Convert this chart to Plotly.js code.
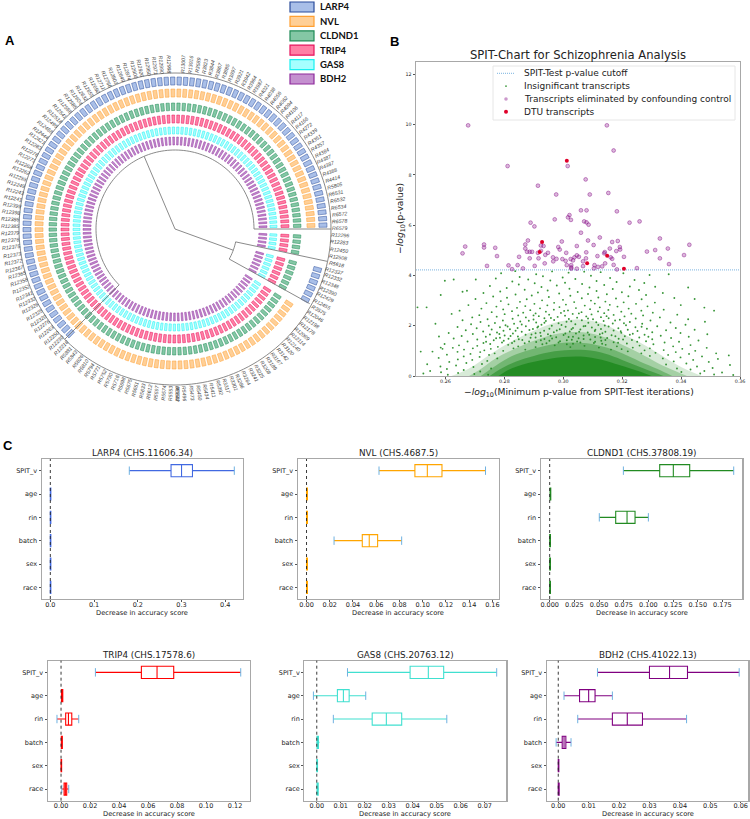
<!DOCTYPE html>
<html>
<head>
<meta charset="utf-8">
<script src="https://cdn.plot.ly/plotly-3.0.1.min.js"></script>
<style>
  body { margin: 0; background: #fff; }
  #chart { width: 750px; height: 819px; }
</style>
</head>
<body>
<div id="chart"></div>
<script>
const W = 750;
const H = 819;

// panel A: tip labels, counter-clockwise from the right
const tipsUpper = ['R6579','R6578','R6572','R6534','R6532','R6531','R5805','R4414','R4388','R4387','R4387','R4384','R4357','R4351','R4339','R4272','R4166','R4117',
  'R4106','R4094','R4062','R4056','R4038','R4021','R3987','R3964','R3942','R3921','R3897','R3885','R3867','R3844','R3823','R3589','R13016','R13007','R12998','R12990','R12971','R12950','R12926','R12900','R12874','R12849','R12803','R12766',
  'R12711','R12690','R12655','R12632','R12604','R12585','R12566','R12541','R12518','R12495','R12468','R12444','R12421','R12283','R12276','R12271','R12268','R12262','R12255','R12249','R12243','R12241',
  'R12399','R12398','R12386','R12385','R12379','R12376','R12375','R12373','R12372','R12367','R12365','R12358','R12352','R12341','R12332','R12326','R12325','R12320','R12276','R12263','R12250','R12230','R12218'];
const tipsLower = ['R5881','R5843','R5826','R5810','R5794','R5771','R5752','R5730','R5716','R5698','R5675','R5651','R5633','R5612','R5597','R5574','R5553','R5530','R5512','R5496','R5473','R5450','R5434','R5411','R5392',
  'R3317','R3301','R3286','R3264','R3241','R3225','R3208','R3189','R3167','R3142','R3120','R12140','R12114','R12089','R12178','R12198','R12046'];
const tipsRight = ['R3575','R12455','R12429','R12390','R12348','R12332','R12337','R5618','R12508','R12450','R12283','R12296'];

const ringNames = ['LARP4', 'NVL', 'CLDND1', 'TRIP4', 'GAS8', 'BDH2'];
const ringFill = ['#a9bfe8', '#ffcf96', '#84c7a5', '#ff7fa5', '#a6ffff', '#c490cf'];
const ringEdge = ['#2b4c9b', '#ffa033', '#1f8a56', '#e6135c', '#19f0f0', '#8e2a9c'];
const ringInner = [144, 132, 118.5, 106, 95, 84];
const ringOuter = [152, 140, 126, 114, 102, 92];
const ringCellWidth = [1.65, 1.6, 1.5, 1.4, 1.3, 1.05];
// tip index ranges that carry a cell in each ring
const ringRanges = [
  [[0, 90], [133, 138]],
  [[0, 90], [91, 131]],
  [[0, 90], [91, 131], [133, 138], [140, 143]],
  [[0, 90], [91, 131], [133, 138], [140, 143]],
  [[0, 90], [91, 131], [133, 138], [140, 143]],
  [[0, 90], [91, 131], [133, 138], [140, 143]],
];

// panel B
const cutoff = [4.22, 4.22];
const cutoffX = [0.25, 0.36];
// dense part of the green cloud, read as outlines of falling density
const cloud1X = [0.262, 0.268, 0.275, 0.282, 0.29, 0.298, 0.305, 0.313, 0.32, 0.328, 0.335, 0.341, 0.347];
const cloud1Y = [0, 0.3, 0.85, 1.35, 1.8, 2.15, 2.25, 2.1, 1.7, 1.2, 0.7, 0.3, 0];
const cloud2X = [0.268, 0.272, 0.277, 0.283, 0.29, 0.298, 0.305, 0.312, 0.319, 0.326, 0.332, 0.338, 0.342];
const cloud2Y = [0, 0.28, 0.7, 1.05, 1.4, 1.68, 1.75, 1.62, 1.3, 0.9, 0.52, 0.2, 0];
const cloud3X = [0.272, 0.276, 0.281, 0.287, 0.294, 0.3, 0.308, 0.315, 0.32, 0.326, 0.332, 0.337];
const cloud3Y = [0, 0.33, 0.7, 0.98, 1.2, 1.32, 1.3, 1.12, 0.9, 0.58, 0.28, 0];
const cloud4X = [0.275, 0.279, 0.284, 0.29, 0.297, 0.304, 0.311, 0.317, 0.323, 0.329, 0.334];
const cloud4Y = [0, 0.3, 0.58, 0.8, 0.98, 1.04, 0.98, 0.78, 0.5, 0.22, 0];
const cloud5X = [0.278, 0.2815, 0.2863, 0.294, 0.3, 0.3078, 0.3146, 0.319, 0.326, 0.33];
const cloud5Y = [0, 0.25, 0.46, 0.66, 0.76, 0.76, 0.6, 0.44, 0.18, 0];
const cloudAlpha = [0.18, 0.28, 0.38, 0.55, 0.96];

const insignificant = [
  [0.2837,4.17],[0.2962,4.16],[0.3018,4.11],[0.2789,4.09],[0.3071,4.15],[0.2908,4.05],[0.3127,4.13],[0.2931,3.97],[0.3204,4.09],[0.2852,3.94],[0.3293,4.02],[0.2998,3.92],[0.3094,3.99],[0.2771,3.88],[0.3159,3.9],[0.3041,3.86],[0.2881,3.84],[0.3242,3.82],[0.2956,3.8],[0.2703,3.84],
  [0.3358,4.05],[0.3113,3.78],[0.2827,3.76],[0.3181,3.74],[0.3006,3.71],[0.3275,3.7],[0.2903,3.69],[0.2628,3.84],[0.2598,3.79],[0.3064,3.66],[0.2849,3.64],[0.3139,3.62],[0.2751,3.58],[0.2978,3.6],[0.3226,3.56],[0.3312,3.55],[0.2926,3.54],[0.3089,3.52],[0.3424,3.52],[0.2808,3.5],
  [0.3021,3.47],[0.3168,3.46],[0.2869,3.43],[0.2658,3.35],[0.2673,3.39],[0.3257,3.42],[0.2947,3.4],[0.3113,3.38],[0.2786,3.36],[0.3049,3.34],[0.2914,3.32],[0.3199,3.33],[0.2729,3.3],[0.3338,3.3],[0.2986,3.28],[0.3084,3.26],[0.2838,3.24],[0.3148,3.25],[0.2584,3.22],[0.3281,3.22],
  [0.2893,3.2],[0.3024,3.19],[0.2762,3.16],[0.3221,3.17],[0.2951,3.14],[0.3119,3.12],[0.2809,3.11],[0.3063,3.09],[0.2702,3.06],[0.3179,3.08],[0.3377,3.1],[0.2876,3.05],[0.2999,3.03],[0.3266,3.05],[0.3446,3.06],[0.2928,3.01],[0.3094,3.0],[0.2788,2.98],[0.3143,2.96],[0.2853,2.95],
  [0.3037,2.94],[0.3205,2.93],[0.2969,2.91],[0.2739,2.9],[0.3311,2.92],[0.3107,2.88],[0.2902,2.87],[0.3247,2.87],[0.2814,2.85],[0.3009,2.84],[0.3158,2.83],[0.2678,2.82],[0.2946,2.81],[0.3073,2.8],[0.2871,2.78],[0.3399,2.82],[0.3286,2.77],[0.3184,2.76],[0.2773,2.76],[0.2987,2.74],
  [0.3124,2.73],[0.2505,2.73],[0.2536,2.73],[0.3479,2.72],[0.2843,2.71],[0.3043,2.7],[0.2921,2.69],[0.3222,2.68],[0.2722,2.68],[0.3091,2.66],[0.2796,2.65],[0.2968,2.64],[0.3153,2.63],[0.3341,2.64],[0.2888,2.62],[0.3016,2.61],[0.3265,2.6],[0.2648,2.6],[0.3512,2.6],[0.2826,2.58],
  [0.3118,2.57],[0.2941,2.56],[0.3197,2.56],[0.3062,2.54],[0.2757,2.54],[0.2864,2.52],[0.2992,2.51],[0.3304,2.52],[0.3139,2.5],[0.2906,2.49],[0.2621,2.47],[0.3231,2.48],[0.3032,2.47],[0.2801,2.46],[0.3096,2.45],[0.2952,2.44],[0.3387,2.44],[0.2715,2.42],[0.3171,2.43],[0.2847,2.41],
  [0.3006,2.4],[0.3271,2.41],[0.2917,2.38],[0.3078,2.37],[0.3208,2.37],[0.2774,2.36],[0.2981,2.35],[0.3128,2.34],[0.2691,2.33],[0.2873,2.33],[0.3047,2.32],[0.3328,2.33],[0.2936,2.3],[0.3154,2.3],[0.3246,2.29],[0.2828,2.28],[0.3019,2.27],[0.2743,2.26],[0.3101,2.26],[0.2899,2.25],
  [0.3424,2.26],[0.2969,2.23],[0.3192,2.24],[0.2658,2.22],[0.3063,2.22],[0.2795,2.21],[0.3296,2.21],[0.2941,2.19],[0.3137,2.19],[0.2854,2.17],[0.3481,2.16],[0.3011,2.16],[0.2719,2.15],[0.3226,2.15],[0.2908,2.13],[0.3085,2.12],[0.3364,2.13],[0.2768,2.11],[0.2566,2.08],[0.2984,2.1],
  [0.3168,2.09],[0.2833,2.08],[0.3268,2.08],[0.2687,2.06],[0.3041,2.06],[0.2926,2.04],[0.3119,2.03],[0.3415,2.04],[0.2804,2.02],[0.3213,2.02],[0.2961,2.0],[0.2747,2.0],[0.3075,1.99],[0.2873,1.98],[0.3319,1.98],[0.3154,1.97],[0.3008,1.96],[0.2641,1.95],[0.2785,1.94],[0.3245,1.94],
  [0.2912,1.93],[0.3097,1.93],[0.2845,1.91],[0.3033,1.91],[0.3382,1.91],[0.2706,1.9],[0.3187,1.9],[0.2953,1.88],[0.3284,1.88],[0.3128,1.87],[0.2819,1.86],[0.2988,1.86],[0.2757,1.85],[0.3058,1.85],[0.3219,1.84],[0.2885,1.83],[0.3446,1.84],[0.2669,1.82],[0.3349,1.82],[0.3171,1.81],
  [0.2797,1.8],[0.2935,1.8],[0.3107,1.79],[0.3252,1.79],[0.2728,1.77],[0.3022,1.77],[0.2859,1.76],[0.3143,1.76],[0.2968,1.74],[0.3302,1.74],[0.2775,1.73],[0.3083,1.73],[0.2611,1.71],[0.3197,1.72],[0.2906,1.7],[0.3398,1.71],[0.2829,1.69],[0.3043,1.69],[0.3236,1.68],[0.2693,1.67],
  [0.2948,1.66],[0.3124,1.66],[0.3489,1.66],[0.2751,1.65],[0.2872,1.64],[0.3276,1.64],[0.3001,1.63],[0.3164,1.62],[0.2801,1.61],[0.3069,1.61],[0.2578,1.57],[0.3331,1.6],[0.2924,1.59],[0.2655,1.59],[0.3209,1.58],[0.2846,1.57],[0.3033,1.56],[0.2737,1.56],[0.3108,1.55],[0.3426,1.56],
  [0.2976,1.54],[0.3258,1.53],[0.2785,1.52],[0.2889,1.52],[0.3149,1.51],[0.3366,1.51],[0.3052,1.5],[0.2628,1.49],[0.2814,1.48],[0.3188,1.48],[0.2936,1.47],[0.3302,1.46],[0.2708,1.45],[0.3092,1.45],[0.2861,1.43],[0.3233,1.43],[0.3012,1.42],[0.2764,1.42],[0.3459,1.41],[0.2953,1.4],
  [0.3129,1.4],[0.2834,1.38],[0.3281,1.38],[0.2675,1.37],[0.3047,1.37],[0.2908,1.35],[0.3393,1.36],[0.3171,1.34],[0.2792,1.33],[0.2984,1.33],[0.3344,1.33],[0.2729,1.31],[0.3104,1.31],[0.2869,1.3],[0.3216,1.29],[0.2597,1.27],[0.2752,1.27],[0.3033,1.28],[0.3306,1.26],[0.2929,1.26],
  [0.2813,1.24],[0.3144,1.24],[0.3432,1.23],[0.2646,1.22],[0.2971,1.22],[0.3259,1.21],[0.2708,1.2],[0.3072,1.2],[0.2847,1.18],[0.3182,1.18],[0.3373,1.18],[0.2778,1.16],[0.2906,1.15],[0.3024,1.15],[0.3236,1.13],[0.2584,1.13],[0.2625,1.12],[0.3121,1.13],[0.3487,1.12],[0.2693,1.1],
  [0.2831,1.1],[0.3294,1.1],[0.2754,1.08],[0.259,1.08],[0.3404,1.08],[0.3198,1.07],[0.2663,1.05],[0.2871,1.05],[0.3162,1.05],[0.3341,1.03],[0.2732,1.02],[0.3276,1.02],[0.2516,0.97],[0.2556,0.97],[0.2796,1.0],[0.3448,1.0],[0.3219,0.98],[0.2641,0.96],[0.2718,0.95],[0.3382,0.95],
  [0.3313,0.92],[0.3265,0.9],[0.2767,0.9],[0.2685,0.88],[0.3519,0.9],[0.3427,0.88],[0.2605,0.85],[0.3562,0.82],[0.2748,0.84],[0.3356,0.84],[0.3294,0.8],[0.2662,0.78],[0.3471,0.78],[0.2716,0.76],[0.3398,0.74],[0.2577,0.72],[0.2776,0.7],[0.3338,0.7],[0.3525,0.68],[0.2642,0.66],
  [0.2691,0.64],[0.3441,0.64],[0.2742,0.6],[0.3375,0.58],[0.2613,0.56],[0.3494,0.56],[0.2538,0.47],[0.2671,0.52],[0.3418,0.5],[0.2724,0.48],[0.3349,0.46],[0.3566,0.44],[0.2636,0.42],[0.2583,0.38],[0.3454,0.38],[0.2695,0.36],[0.3507,0.32],[0.2755,0.3],[0.3386,0.3],[0.2605,0.28],
  [0.3432,0.26],[0.2662,0.24],[0.2548,0.2],[0.3479,0.2],[0.2718,0.18],[0.3401,0.16],[0.2585,0.15],[0.3539,0.14],[0.2643,0.12],[0.2525,0.1],[0.3465,0.1],[0.2698,0.08],[0.3512,0.06],[0.2608,0.05],[0.2745,0.05],[0.3577,0.04],
  [0.3003,2.59],[0.2899,2.41],[0.3053,2.49],[0.3147,2.38],[0.2958,2.31],[0.3084,2.29],[0.3176,2.21],[0.2883,2.2],[0.3027,2.18],[0.2936,2.12],[0.3112,2.14],[0.2859,2.05],[0.2994,2.03],[0.3206,2.1],[0.3069,1.98],[0.2915,1.97],[0.3141,2.01],[0.2811,1.97],[0.3028,1.86],[0.3266,1.96],
  [0.2897,1.87],[0.3109,1.84],[0.2978,1.81],[0.3195,1.78],[0.2838,1.8],[0.3054,1.76],[0.2922,1.72],[0.3133,1.7],[0.3007,1.69],[0.2783,1.67],[0.3226,1.64],[0.2892,1.65],[0.3088,1.64],[0.2957,1.6],[0.3177,1.58],[0.2821,1.59],[0.3018,1.55],[0.3127,1.53],[0.2906,1.53],[0.3289,1.56],
  [0.2772,1.5],[0.2962,1.49],[0.3069,1.47],[0.3203,1.45],[0.2849,1.46],[0.3029,1.44],[0.2924,1.42],[0.3143,1.43],[0.2798,1.4],[0.3108,1.36],[0.2989,1.38],[0.3251,1.36],[0.2884,1.37],[0.3058,1.33],[0.2738,1.36],[0.3186,1.32],[0.2826,1.31],[0.2943,1.3],[0.3132,1.28],[0.3012,1.26],
];

const eliminated = [
  [0.2677,9.97],[0.3148,9.97],[0.3171,8.97],[0.2811,8.35],[0.3015,8.35],[0.3076,7.82],[0.2914,7.57],[0.2976,7.22],[0.309,7.22],[0.3153,7.28],[0.3182,6.55],[0.306,6.59],[0.3079,6.59],[0.3021,6.4],[0.3016,6.31],[0.3026,6.21],[0.2971,6.23],[0.2889,6.1],[0.2902,5.95],[0.3071,6.15],
  [0.3079,6.11],[0.3086,6.02],[0.3225,6.1],[0.3259,6.15],[0.306,5.7],[0.3124,5.51],[0.3328,5.47],[0.3084,5.39],[0.288,5.39],[0.2995,5.35],[0.3166,5.33],[0.3185,5.37],[0.2871,5.23],[0.3103,5.21],[0.2731,5.23],[0.2667,5.15],[0.2731,5.11],[0.2769,5.1],[0.3428,5.22],[0.3355,5.07],
  [0.3312,5.01],[0.2983,5.13],[0.2988,5.03],[0.2924,5.19],[0.2933,5.17],[0.3046,5.17],[0.3158,5.07],[0.3192,5.13],[0.3193,5.03],[0.2871,5.07],[0.2658,4.88],[0.2877,4.94],[0.2886,4.94],[0.2894,4.94],[0.2914,4.9],[0.2924,4.98],[0.2948,4.9],[0.2939,4.82],[0.301,4.9],[0.3078,4.92],
  [0.3141,4.93],[0.3139,4.88],[0.318,4.97],[0.3284,4.95],[0.2775,4.77],[0.285,4.74],[0.2886,4.68],[0.2916,4.68],[0.2965,4.72],[0.2977,4.66],[0.2997,4.65],[0.3046,4.8],[0.3038,4.72],[0.3053,4.74],[0.3025,4.65],[0.3008,4.58],[0.3033,4.6],[0.3077,4.68],[0.3116,4.77],[0.3161,4.72],
  [0.3166,4.66],[0.3206,4.74],[0.3328,4.68],[0.341,4.81],[0.2966,4.56],[0.2937,4.48],[0.3067,4.56],[0.3142,4.48],[0.3171,4.42],[0.3359,4.45],[0.2741,4.38],[0.2814,4.4],[0.2845,4.41],[0.2903,4.38],[0.3012,4.41],[0.3027,4.32],[0.3027,4.41],[0.3067,4.37],[0.3106,4.41],[0.3118,4.34],
  [0.3132,4.36],[0.2826,4.25],[0.2863,4.28],[0.3046,4.27],[0.3027,4.27],[0.3104,4.28],[0.3182,4.24],[0.325,4.29],
];
const dtu = [[0.3012,8.56],[0.2928,5.33],[0.292,4.93],[0.3149,4.78],[0.3081,4.48],[0.3206,4.27]];

// panel C
const features = ['SPIT_v', 'age', 'rin', 'batch', 'sex', 'race'];

const larp4Low = [0.1806, -0.0002, -0.0002, -0.0002, -0.0002, -0.0002];
const larp4Q1 = [0.276, 0, 0, 0, 0, 0];
const larp4Med = [0.3, 0.0005, 0.0005, 0.0005, 0.0005, 0.0005];
const larp4Q3 = [0.325, 0.0012, 0.0012, 0.0012, 0.0012, 0.0012];
const larp4High = [0.4206, 0.0015, 0.0015, 0.0015, 0.0015, 0.0015];

const nvlLow = [0.0624, 0, 0, 0.0237, 0, 0];
const nvlQ1 = [0.0933, 0, 0, 0.048, 0, 0];
const nvlMed = [0.104, 0.0004, 0.0004, 0.054, 0.0004, 0.0004];
const nvlQ3 = [0.1166, 0.0008, 0.0008, 0.0612, 0.0008, 0.0008];
const nvlHigh = [0.1541, 0.001, 0.001, 0.0819, 0.001, 0.001];

const cldnd1Low = [0.0747, 0.0002, 0.0503, 0, 0, 0];
const cldnd1Q1 = [0.1115, 0.0004, 0.0669, 0, 0, 0];
const cldnd1Med = [0.1253, 0.0007, 0.0784, 0.0004, 0.0004, 0.0004];
const cldnd1Q3 = [0.1419, 0.0011, 0.0865, 0.0008, 0.0008, 0.0008];
const cldnd1High = [0.1865, 0.0013, 0.1, 0.001, 0.001, 0.001];

const trip4Low = [0.0237, 0.0002, -0.0028, 0.0001, 0, 0.0005];
const trip4Q1 = [0.0554, 0.0003, 0.0032, 0.0002, 0, 0.0021];
const trip4Med = [0.0662, 0.0006, 0.0051, 0.0005, 0, 0.003];
const trip4Q3 = [0.0777, 0.0012, 0.0074, 0.0009, 0.0004, 0.0039];
const trip4High = [0.1239, 0.0014, 0.0122, 0.001, 0.0004, 0.0053];

const gas8Low = [0.0128, -0.0014, 0.0069, -0.0002, 0, 0];
const gas8Q1 = [0.0389, 0.0086, 0.0231, 0.0001, 0, 0.0001];
const gas8Med = [0.0465, 0.0111, 0.029, 0.0004, 0.0001, 0.0003];
const gas8Q3 = [0.0529, 0.0135, 0.0354, 0.0007, 0.0003, 0.0006];
const gas8High = [0.075, 0.0204, 0.0542, 0.0011, 0.0004, 0.0009];

const bdh2Low = [0.0129, 0.0019, 0.0064, -0.0007, 0, 0];
const bdh2Q1 = [0.03, 0.007, 0.0178, 0.0013, 0, 0];
const bdh2Med = [0.0366, 0.01, 0.0227, 0.0019, 0.0001, 0.0001];
const bdh2Q3 = [0.0425, 0.0121, 0.0277, 0.0025, 0.0002, 0.0003];
const bdh2High = [0.0595, 0.0178, 0.0422, 0.0042, 0.0002, 0.0003];

const FONT = 'DejaVu Sans, sans-serif';
const FRAME = '#a8a8a8';
const px = (x) => x / W;
const py = (y) => 1 - y / H;

const data = [];
const shapes = [];
const annotations = [];
const layout = {
  width: W,
  height: H,
  margin: { l: 0, r: 0, t: 0, b: 0 },
  paper_bgcolor: '#fff',
  plot_bgcolor: '#fff',
  font: { family: FONT, color: '#222' },
  showlegend: false,
  shapes,
  annotations,
};

function text(x, y, str, size, extra = {}) {
  annotations.push({
    xref: 'paper', yref: 'paper', x: px(x), y: py(y), text: str, showarrow: false,
    font: { size, family: FONT, color: '#222' }, xanchor: 'center', yanchor: 'middle', ...extra,
  });
}

// ---- panel A
const CX = 175;
const CY = 229;
const POLAR_R = 170;
const NTIPS = 145;
const tipTheta = (k) => 1.5 + k * 360 / NTIPS;

function arc(r, from, to) {
  const pts = { r: [], theta: [] };
  const steps = Math.max(2, Math.ceil(Math.abs(to - from) / 2));
  for (let i = 0; i <= steps; i++) {
    pts.r.push(r);
    pts.theta.push(from + (to - from) * i / steps);
  }
  return pts;
}

ringNames.forEach((name, i) => {
  const theta = [];
  ringRanges[i].forEach(([a, b]) => {
    for (let k = a; k <= b; k++) theta.push(tipTheta(k));
  });
  data.push({
    type: 'barpolar', subplot: 'polar', name, showlegend: false, hoverinfo: 'skip',
    theta,
    r: theta.map(() => ringOuter[i] - ringInner[i]),
    base: ringInner[i],
    width: ringCellWidth[i],
    marker: { color: ringFill[i], line: { color: ringEdge[i], width: 0.5 } },
  });
});

// tree branches as [r, from, to] arcs and [r0, r1, theta] spokes
const treeArcs = [[156, 0, 360], [79, 0, 225], [62, -12, -29]];
const treeSpokes = [[79, 156, 0], [79, 156, 225], [62, 156, -12], [62, 154, -29], [0, 62, -20], [0, 79, 113]];
treeArcs.forEach(([r, from, to]) => {
  const a = arc(r, from, to);
  data.push({ type: 'scatterpolar', subplot: 'polar', mode: 'lines', r: a.r, theta: a.theta,
    line: { color: '#7d7d7d', width: 0.9 }, showlegend: false, hoverinfo: 'skip' });
});
treeSpokes.forEach(([r0, r1, t]) => {
  data.push({ type: 'scatterpolar', subplot: 'polar', mode: 'lines', r: [r0, r1], theta: [t, t],
    line: { color: '#7d7d7d', width: 0.9 }, showlegend: false, hoverinfo: 'skip' });
});

layout.polar = {
  domain: { x: [px(CX - POLAR_R), px(CX + POLAR_R)], y: [py(CY + POLAR_R), py(CY - POLAR_R)] },
  bgcolor: 'rgba(0,0,0,0)',
  barmode: 'overlay',
  angularaxis: { visible: false, rotation: 0, direction: 'counterclockwise', showgrid: false, showline: false, showticklabels: false, ticks: '' },
  radialaxis: { visible: false, range: [0, POLAR_R], showgrid: false, showline: false, showticklabels: false, ticks: '' },
};

const allTips = [...tipsUpper, ...tipsLower, ...tipsRight];
allTips.forEach((label, k) => {
  const t = ((tipTheta(k) % 360) + 360) % 360;
  const rightSide = t < 90 || t > 270;
  const shown = rightSide ? t - 1.2 : t + 1.2;
  const rad = shown * Math.PI / 180;
  text(CX + 165 * Math.cos(rad), CY - 165 * Math.sin(rad), `<i>${label}</i>`, 5.2, {
    textangle: rightSide ? -shown : 180 - shown,
    font: { size: 5.2, family: 'Liberation Sans, sans-serif', color: '#444' },
  });
});

ringNames.forEach((name, i) => {
  const top = 2 + i * 14.4;
  shapes.push({ type: 'rect', xref: 'paper', yref: 'paper', x0: px(290), x1: px(314), y0: py(top), y1: py(top + 10),
    fillcolor: ringFill[i], line: { color: ringEdge[i], width: 1.2 } });
  text(318, top + 5, `<b>${name}</b>`, 9.5, { xanchor: 'left', font: { size: 9.5, family: 'Lato, sans-serif', color: '#111' } });
});

// ---- panel B
const BOX_B = { l: 416, r: 740, t: 62, b: 376 };
[[cloud1X, cloud1Y], [cloud2X, cloud2Y], [cloud3X, cloud3Y], [cloud4X, cloud4Y], [cloud5X, cloud5Y]].forEach(([x, y], i) => {
  data.push({ type: 'scatter', mode: 'lines', x, y, fill: 'tozeroy', fillcolor: `rgba(34,139,34,${cloudAlpha[i]})`, line: { width: 0, shape: 'spline' }, showlegend: false, hoverinfo: 'skip' });
});
data.push({ type: 'scatter', mode: 'lines', name: 'SPIT-Test p-value cutoff', x: cutoffX, y: cutoff, line: { color: '#7ab3e0', width: 1, dash: '1px,1px' } });
data.push({ type: 'scatter', mode: 'markers', name: 'Insignificant transcripts', x: insignificant.map((p) => p[0]), y: insignificant.map((p) => p[1]),
  marker: { color: '#228b22', size: 1.9, opacity: 0.9 } });
data.push({ type: 'scatter', mode: 'markers', name: 'Transcripts eliminated by confounding control', x: eliminated.map((p) => p[0]), y: eliminated.map((p) => p[1]),
  marker: { color: 'rgba(128,0,128,0.28)', size: 3.8, line: { color: 'rgba(128,0,128,0.6)', width: 0.7 } } });
data.push({ type: 'scatter', mode: 'markers', name: 'DTU transcripts', x: dtu.map((p) => p[0]), y: dtu.map((p) => p[1]),
  marker: { color: '#e0002a', size: 4 } });

layout.xaxis = {
  domain: [px(BOX_B.l), px(BOX_B.r)], anchor: 'y', range: [0.25, 0.36], tick0: 0.26, dtick: 0.02, tickformat: '.2f',
  tickfont: { size: 4.8 }, ticks: 'outside', ticklen: 2, tickcolor: '#555', ticklabelstandoff: -2, showgrid: false, zeroline: false,
  showline: true, mirror: true, linecolor: FRAME, linewidth: 1.4,
};
layout.yaxis = {
  domain: [py(BOX_B.b), py(BOX_B.t)], anchor: 'x', range: [0, 12.49], dtick: 2,
  tickfont: { size: 4.8 }, ticks: 'outside', ticklen: 2, tickcolor: '#555', showgrid: false, zeroline: false,
  showline: true, mirror: true, linecolor: FRAME, linewidth: 1.4,
};
text(578, 55, 'SPIT-Chart for Schizophrenia Analysis', 11.6);
text(578.7, 392, '\u2212<i>log</i><sub>10</sub>(Minimum p-value from SPIT-Test iterations)', 9.2);
text(401, 218, '\u2212<i>log</i><sub>10</sub>(p-value)', 9.2, { textangle: -90 });

// legend of panel B, drawn by hand so the rows can sit as tight as the reference
const legendRows = [
  ['SPIT-Test p-value cutoff', 'line', '#7ab3e0', 0],
  ['Insignificant transcripts', 'dot', '#228b22', 0.8],
  ['Transcripts eliminated by confounding control', 'dot', 'rgba(128,0,128,0.4)', 1.8],
  ['DTU transcripts', 'dot', '#e0002a', 2],
];
shapes.push({ type: 'rect', xref: 'paper', yref: 'paper', x0: px(493), x1: px(735), y0: py(66), y1: py(120),
  fillcolor: 'rgba(255,255,255,0.85)', line: { color: '#e6e6e6', width: 1 } });
legendRows.forEach(([label, kind, color, radius], i) => {
  const y = 73.3 + i * 12.85;
  if (kind === 'line') {
    shapes.push({ type: 'line', xref: 'paper', yref: 'paper', x0: px(497), x1: px(515), y0: py(y), y1: py(y), line: { color, width: 1, dash: '1px,1px' } });
  } else {
    shapes.push({ type: 'circle', xref: 'paper', yref: 'paper', x0: px(506 - radius), x1: px(506 + radius), y0: py(y - radius), y1: py(y + radius),
      fillcolor: color, line: { width: 0 } });
  }
  text(522, y, label, 9, { xanchor: 'left' });
});

// ---- panel C
function boxPanel(n, title, color, stats, box, range, dtick, tickformat) {
  const [low, q1, med, q3, high] = stats;
  const xa = `x${n}`;
  const ya = `y${n}`;
  data.push({
    type: 'box', orientation: 'h', xaxis: xa, yaxis: ya, y: features, lowerfence: low, q1, median: med, q3, upperfence: high,
    boxpoints: false, width: 0.52, whiskerwidth: 0, fillcolor: 'rgba(0,0,0,0)', line: { color, width: 1.1 }, showlegend: false, hoverinfo: 'skip',
  });
  const span = range[1] - range[0];
  const capRows = features.map((_, i) => i).filter((i) => high[i] - low[i] > span * 0.025);
  data.push({
    type: 'scatter', mode: 'markers', xaxis: xa, yaxis: ya,
    x: capRows.map((i) => low[i]).concat(capRows.map((i) => high[i])),
    y: capRows.map((i) => features[i]).concat(capRows.map((i) => features[i])),
    marker: { symbol: 'line-ns', size: 6, line: { color: '#6fb1e0', width: 1 } }, showlegend: false, hoverinfo: 'skip',
  });
  layout[`xaxis${n}`] = {
    domain: [px(box.l), px(box.r)], anchor: ya, range, tick0: 0, dtick, tickformat,
    tickfont: { size: 6.5 }, ticks: 'outside', ticklen: 1.5, tickcolor: '#555', ticklabelstandoff: -3, showgrid: false, zeroline: false,
    showline: true, mirror: true, linecolor: FRAME, linewidth: 1.2,
  };
  layout[`yaxis${n}`] = {
    domain: [py(box.b), py(box.t)], anchor: xa, type: 'category', categoryorder: 'array', categoryarray: features, range: [5.5, -0.5],
    tickfont: { size: 6.5 }, ticks: 'outside', ticklen: 2, tickcolor: '#555', showgrid: false, zeroline: false,
    showline: true, mirror: true, linecolor: FRAME, linewidth: 1.2,
  };
  shapes.push({ type: 'line', xref: xa, yref: `${ya} domain`, x0: 0, x1: 0, y0: 0, y1: 1, line: { color: '#222', width: 0.9, dash: 'dot' } });
  text((box.l + box.r) / 2, box.t - 6, title, 8.8);
  text((box.l + box.r) / 2, box.b + 13.5, 'Decrease in accuracy score', 6.7);
}

boxPanel(2, 'LARP4 (CHS.11606.34)', '#4169e1', [larp4Low, larp4Q1, larp4Med, larp4Q3, larp4High], { l: 41.7, r: 243, t: 459, b: 599 }, [-0.0197, 0.4405], 0.1, '.1f');
boxPanel(3, 'NVL (CHS.4687.5)', '#ffa500', [nvlLow, nvlQ1, nvlMed, nvlQ3, nvlHigh], { l: 297.7, r: 499, t: 459, b: 599 }, [-0.0076, 0.1657], 0.02, '.2f');
boxPanel(4, 'CLDND1 (CHS.37808.19)', '#228b22', [cldnd1Low, cldnd1Q1, cldnd1Med, cldnd1Q3, cldnd1High], { l: 540.7, r: 742.3, t: 459, b: 599 }, [-0.0091, 0.1952], 0.025, '.3f');
boxPanel(5, 'TRIP4 (CHS.17578.6)', '#ff0000', [trip4Low, trip4Q1, trip4Med, trip4Q3, trip4High], { l: 47.7, r: 250, t: 660.7, b: 800.7 }, [-0.0092, 0.1303], 0.02, '.2f');
boxPanel(6, 'GAS8 (CHS.20763.12)', '#40e0d0', [gas8Low, gas8Q1, gas8Med, gas8Q3, gas8High], { l: 304.3, r: 506.3, t: 660.7, b: 800.7 }, [-0.0052, 0.079], 0.01, '.2f');
boxPanel(7, 'BDH2 (CHS.41022.13)', '#800080', [bdh2Low, bdh2Q1, bdh2Med, bdh2Q3, bdh2High], { l: 546.7, r: 748.3, t: 660.7, b: 800.7 }, [-0.0038, 0.0625], 0.01, '.2f');

// panel letters
const letterFont = { size: 13, family: 'Liberation Sans, sans-serif', color: '#000' };
text(10, 40, '<b>A</b>', 13, { font: letterFont });
text(395, 41, '<b>B</b>', 13, { font: letterFont });
text(8, 446, '<b>C</b>', 13, { font: letterFont });

Plotly.newPlot('chart', data, layout, { displayModeBar: false, staticPlot: true });
</script>
</body>
</html>
